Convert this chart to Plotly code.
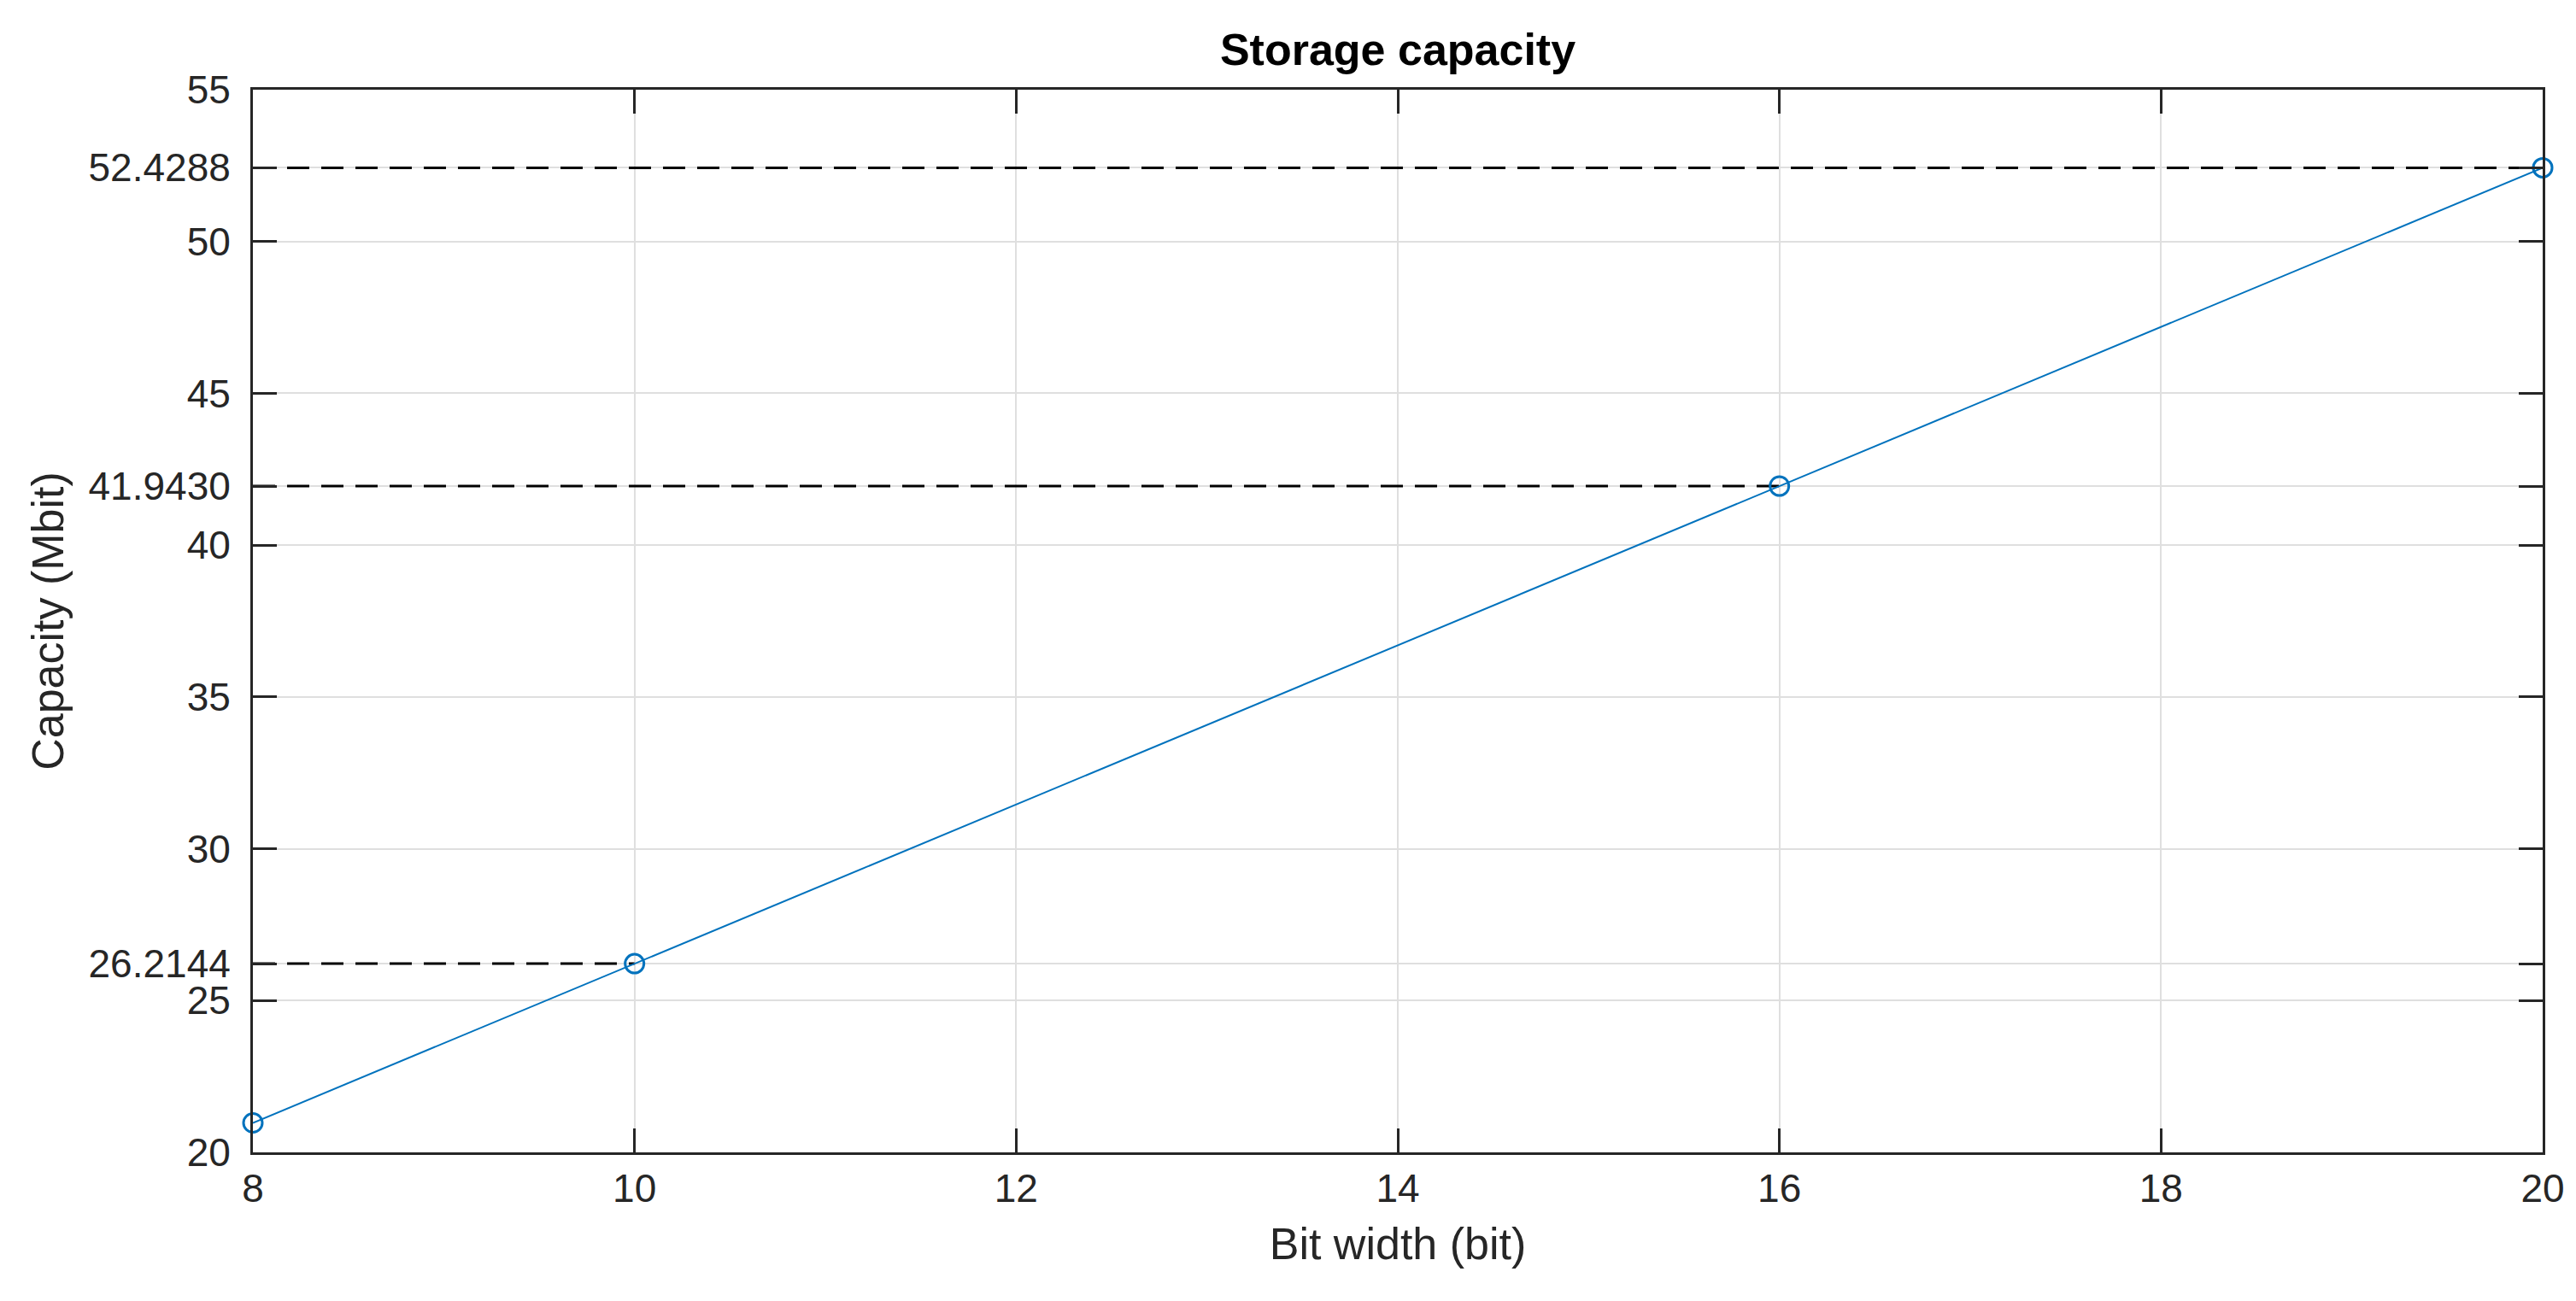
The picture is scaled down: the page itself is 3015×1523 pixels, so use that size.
import plotly.graph_objects as go

bit_width = [8, 10, 16, 20]
capacity = [20.97152, 26.2144, 41.9430, 52.4288]

ref_x_end = [10, 16, 20]
ref_values = [26.2144, 41.9430, 52.4288]

y_ticks = [20, 25, 26.2144, 30, 35, 40, 41.9430, 45, 50, 52.4288, 55]
y_tick_labels = ["20", "25", "26.2144", "30", "35", "40", "41.9430", "45", "50", "52.4288", "55"]
x_ticks = [8, 10, 12, 14, 16, 18, 20]

W, H = 3015, 1523
L, R, T, B = 288, 47, 97, 182
FONT = "Liberation Sans, Arial, Helvetica, sans-serif"
AX = "#262626"
BLUE = "#0072BD"

fig = go.Figure()

for xe, v in zip(ref_x_end, ref_values):
    fig.add_trace(go.Scatter(
        x=[8, xe], y=[v, v], mode="lines",
        line=dict(color="black", width=3, dash="26px,14px"),
        showlegend=False, hoverinfo="skip", cliponaxis=False))

fig.add_trace(go.Scatter(
    x=bit_width, y=capacity, mode="lines+markers",
    line=dict(color=BLUE, width=2),
    marker=dict(symbol="circle-open", size=22, color=BLUE, line=dict(width=3, color=BLUE)),
    showlegend=False, cliponaxis=False))

axis_common = dict(
    showline=True, linecolor=AX, linewidth=3, mirror="ticks",
    ticks="inside", ticklen=28, tickwidth=3, tickcolor=AX,
    showgrid=True, gridcolor="#dfdfdf", gridwidth=2,
    zeroline=False,
    tickfont=dict(family=FONT, size=46, color=AX),
)

fig.update_layout(
    width=W, height=H,
    margin=dict(l=L, r=R, t=T, b=B),
    paper_bgcolor="white", plot_bgcolor="white",
    title=dict(text="<b>Storage capacity</b>", x=(L + (W - R)) / 2 / W, xanchor="center",
               y=1 - 50 / H, yanchor="middle", yref="container",
               font=dict(family=FONT, size=52, color="black")),
    xaxis=dict(range=[8, 20], tickmode="array", tickvals=x_ticks,
               ticklabelstandoff=0,
               title=dict(text="Bit width (bit)", standoff=22,
                          font=dict(family=FONT, size=52, color=AX)),
               **axis_common),
    yaxis=dict(range=[20, 55], tickmode="array", tickvals=y_ticks, ticktext=y_tick_labels,
               ticklabelstandoff=14,
               title=dict(text="Capacity (Mbit)", standoff=13,
                          font=dict(family=FONT, size=52, color=AX)),
               **axis_common),
    hovermode=False,
)

fig.write_html("out.html", config={"displayModeBar": False})
